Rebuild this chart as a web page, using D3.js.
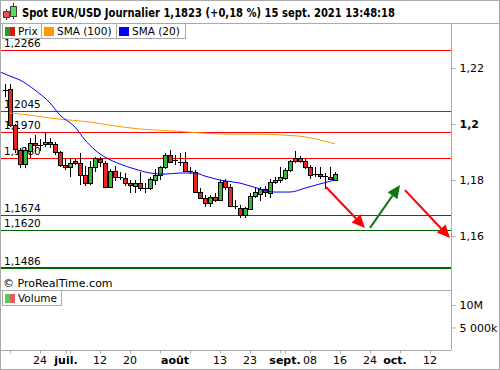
<!DOCTYPE html>
<html>
<head>
<meta charset="utf-8">
<script src="https://cdn.jsdelivr.net/npm/d3@7"></script>
<style>
  body { margin: 0; background: #fff; }
  svg { display: block; font-family: "DejaVu Sans", sans-serif; }
</style>
</head>
<body>
<svg id="chart" width="500" height="370"></svg>
<script>
// daily candles, 15 June -> 15 Sept 2021 : [open, high, low, close]
const candles = [
  [1.2120, 1.2143, 1.2095, 1.2122], [1.2125, 1.2143, 1.1990, 1.1996], [1.1996, 1.2000, 1.1895, 1.1910],
  [1.1908, 1.1915, 1.1843, 1.1857], [1.1857, 1.1918, 1.1843, 1.1907], [1.1902, 1.1950, 1.1880, 1.1932],
  [1.1932, 1.1960, 1.1900, 1.1925], [1.1925, 1.1945, 1.1905, 1.1926], [1.1928, 1.1972, 1.1918, 1.1936],
  [1.1936, 1.1950, 1.1915, 1.1929], [1.1929, 1.1935, 1.1890, 1.1900], [1.1900, 1.1905, 1.1845, 1.1854],
  [1.1854, 1.1875, 1.1835, 1.1846], [1.1846, 1.1880, 1.1810, 1.1861], [1.1868, 1.1875, 1.1855, 1.1861],
  [1.1861, 1.1895, 1.1782, 1.1818], [1.1818, 1.1850, 1.1780, 1.1789], [1.1789, 1.1868, 1.1782, 1.1846],
  [1.1846, 1.1882, 1.1830, 1.1879], [1.1875, 1.1882, 1.1848, 1.1864], [1.1861, 1.1868, 1.1772, 1.1775],
  [1.1775, 1.1840, 1.1770, 1.1832], [1.1832, 1.1850, 1.1795, 1.1812], [1.1812, 1.1830, 1.1800, 1.1807],
  [1.1807, 1.1825, 1.1780, 1.1789], [1.1789, 1.1800, 1.1755, 1.1782], [1.1780, 1.1800, 1.1752, 1.1790],
  [1.1789, 1.1830, 1.1760, 1.1771], [1.1771, 1.1790, 1.1752, 1.1772], [1.1771, 1.1810, 1.1765, 1.1804],
  [1.1800, 1.1840, 1.1783, 1.1818], [1.1818, 1.1850, 1.1800, 1.1846], [1.1846, 1.1895, 1.1840, 1.1889],
  [1.1889, 1.1908, 1.1860, 1.1864], [1.1870, 1.1890, 1.1855, 1.1866], [1.1866, 1.1895, 1.1850, 1.1864],
  [1.1864, 1.1900, 1.1830, 1.1832], [1.1832, 1.1848, 1.1820, 1.1828], [1.1828, 1.1835, 1.1755, 1.1757],
  [1.1757, 1.1770, 1.1735, 1.1736], [1.1736, 1.1745, 1.1705, 1.1718], [1.1718, 1.1745, 1.1705, 1.1739],
  [1.1739, 1.1753, 1.1720, 1.1730], [1.1730, 1.1800, 1.1725, 1.1793], [1.1796, 1.1805, 1.1765, 1.1775],
  [1.1775, 1.1785, 1.1705, 1.1707], [1.1707, 1.1727, 1.1695, 1.1703], [1.1700, 1.1710, 1.1665, 1.1675],
  [1.1675, 1.1705, 1.1664, 1.1700], [1.1696, 1.1755, 1.1692, 1.1743], [1.1743, 1.1770, 1.1735, 1.1757],
  [1.1750, 1.1775, 1.1725, 1.1768], [1.1768, 1.1780, 1.1740, 1.1757], [1.1754, 1.1805, 1.1735, 1.1793],
  [1.1793, 1.1810, 1.1785, 1.1800], [1.1800, 1.1845, 1.1790, 1.1811], [1.1807, 1.1842, 1.1800, 1.1836],
  [1.1836, 1.1870, 1.1830, 1.1868], [1.1879, 1.1904, 1.1860, 1.1868], [1.1880, 1.1885, 1.1860, 1.1870],
  [1.1868, 1.1880, 1.1840, 1.1846], [1.1846, 1.1855, 1.1805, 1.1818], [1.1820, 1.1845, 1.1810, 1.1820],
  [1.1821, 1.1845, 1.1805, 1.1814], [1.1814, 1.1825, 1.1768, 1.1810], [1.1812, 1.1845, 1.1800, 1.1806],
  [1.1800, 1.1830, 1.1798, 1.1823]
];

// moving averages (bar index, value)
const sma20Idx = [-1, 1, 3, 6, 9, 11, 14, 16, 18, 20, 23, 26, 29, 32, 35, 38, 40, 43, 47, 51, 54, 57, 60, 63, 66];
const sma20 = [1.2186, 1.2171, 1.2157, 1.2121, 1.2075, 1.2032, 1.1989, 1.1943, 1.1907, 1.1882, 1.1857, 1.1839,
  1.1825, 1.1821, 1.1825, 1.1825, 1.1814, 1.1800, 1.1789, 1.1768, 1.1757, 1.1757, 1.1771, 1.1786, 1.1800];
const sma100Idx = [1, 5, 9, 13, 17, 21, 27, 34, 39, 45, 50, 55, 60, 63, 66];
const sma100 = [1.2039, 1.2032, 1.2021, 1.2014, 1.2007, 1.1996, 1.1982, 1.1975, 1.1968, 1.1964, 1.1964,
  1.1961, 1.1954, 1.1943, 1.1929];

const resistances = [1.2266, 1.2045, 1.1970, 1.1880];
const supports = [1.1674, 1.1620, 1.1486];
const levelLabels = ["1,2266", "1,2045", "1,1970", "1,1880", "1,1674", "1,1620", "1,1486"];

const priceTicks = [1.16, 1.18, 1.2, 1.22];
const priceTickLabels = ["1,16", "1,18", "1,2", "1,22"];
const volTicks = [5e6, 10e6];
const volTickLabels = ["5 000k", "10M"];

const dayTicks = [1, 7, 12.2, 13, 19, 25, 31, 37, 43, 49, 55, 56, 61, 67, 73, 79, 85];
const dayLabelIdx = [7, 12.2, 19, 25, 34, 43, 49, 56, 61, 67, 73, 78, 85];
const dayLabels = ["24", "juil.", "12", "20", "août", "13", "23", "sept.", "08", "16", "24", "oct.", "12"];
const monthLabels = ["juil.", "août", "sept.", "oct."];

// forecast arrows : [fromIdx, fromPrice, toIdx, toPrice]
const arrowsRed = [[64.2, 1.1775, 72, 1.1629], [80, 1.1764, 89, 1.1593]];
const arrowsGreen = [[73, 1.1629, 79, 1.1782]];

const title = "Spot EUR/USD Journalier 1,1823 (+0,18 %) 15 sept. 2021 13:48:18";

const svg = d3.select("#chart");
const W = 500, H = 370;
const plotRight = 451, priceTop = 23, priceBottom = 290, volBottom = 350;
const frame = "#aaaaaa";
const upCol = "#33bb33", downCol = "#ec2420";

const x = d3.scaleLinear().domain([-1, 89.2]).range([0, plotRight]);
const y = d3.scaleLinear().domain([1.2 - 166 / 2800, 1.2 + 101 / 2800]).range([priceBottom, priceTop]);
const yv = d3.scaleLinear().domain([0, 13.33e6]).range([volBottom, priceBottom]);

svg.append("rect").attr("width", W).attr("height", H).attr("fill", "#fff");

svg.append("defs").append("clipPath").attr("id", "clip")
  .append("rect").attr("x", 0).attr("y", priceTop).attr("width", plotRight).attr("height", priceBottom - priceTop);

const plot = svg.append("g").attr("clip-path", "url(#clip)");

// horizontal levels + their labels (under the candles)
const levels = resistances.map(v => ({ v, col: "#ff0000", w: 1 }))
  .concat(supports.map((v, i) => ({ v, col: "#006600", w: i === supports.length - 1 ? 2 : 1 })));
levels.forEach((d, i) => {
  const yy = Math.round(y(d.v)) + (d.w === 1 ? 0.5 : 0);
  plot.append("line").attr("x1", 0).attr("x2", plotRight).attr("y1", yy).attr("y2", yy)
    .attr("stroke", d.col).attr("stroke-width", d.w);
  plot.append("text").attr("x", 4).attr("y", yy - 3.5).attr("font-size", 10.5).attr("fill", "#000")
    .text(levelLabels[i]);
});

// candles
const cg = plot.append("g").attr("shape-rendering", "crispEdges");
candles.forEach((c, i) => {
  const [o, h, l, cl] = c;
  const cx = Math.round(x(i));
  cg.append("line").attr("x1", cx + 0.5).attr("x2", cx + 0.5).attr("y1", y(h)).attr("y2", y(l))
    .attr("stroke", "#000");
  const top = y(Math.max(o, cl)), bot = y(Math.min(o, cl));
  if (bot - top < 1.5) {
    cg.append("line").attr("x1", cx - 2).attr("x2", cx + 3).attr("y1", Math.round(top) + 0.5).attr("y2", Math.round(top) + 0.5)
      .attr("stroke", "#000");
  } else {
    cg.append("rect").attr("x", cx - 1.5).attr("width", 4).attr("y", Math.round(top) + 0.5)
      .attr("height", Math.max(1, Math.round(bot - top)))
      .attr("fill", cl >= o ? upCol : downCol).attr("stroke", "#000");
  }
});

// moving averages
const line = d3.line().x(d => x(d[0])).y(d => y(d[1])).curve(d3.curveMonotoneX);
plot.append("path").datum(sma100Idx.map((d, i) => [d, sma100[i]]))
  .attr("d", line).attr("fill", "none").attr("stroke", "#ff9900").attr("stroke-width", 1);
plot.append("path").datum(sma20Idx.map((d, i) => [d, sma20[i]]))
  .attr("d", line).attr("fill", "none").attr("stroke", "#0000ff").attr("stroke-width", 1);

// arrows
function arrow(a, col) {
  const x1 = x(a[0]), y1 = y(a[1]), x2 = x(a[2]), y2 = y(a[3]);
  const ang = Math.atan2(y2 - y1, x2 - x1), len = 13, hw = 6;
  const bx = x2 - len * Math.cos(ang), by = y2 - len * Math.sin(ang);
  plot.append("line").attr("x1", x1).attr("y1", y1).attr("x2", bx).attr("y2", by)
    .attr("stroke", col).attr("stroke-width", 2);
  const px = -Math.sin(ang) * hw, py = Math.cos(ang) * hw;
  plot.append("path").attr("d", `M${x2},${y2}L${bx + px},${by + py}L${bx - px},${by - py}Z`).attr("fill", col);
}
arrowsRed.forEach(a => arrow(a, "#ff0000"));
arrowsGreen.forEach(a => arrow(a, "#117711"));

// copyright
svg.append("text").attr("x", 3).attr("y", 287).attr("font-size", 11).text("© ProRealTime.com");

// frame lines
svg.append("line").attr("x1", 0).attr("x2", W).attr("y1", priceTop + 0.5).attr("y2", priceTop + 0.5).attr("stroke", frame);
svg.append("line").attr("x1", 0).attr("x2", plotRight).attr("y1", priceBottom + 0.5).attr("y2", priceBottom + 0.5).attr("stroke", frame);
svg.append("line").attr("x1", 0).attr("x2", plotRight).attr("y1", volBottom + 0.5).attr("y2", volBottom + 0.5).attr("stroke", frame);
svg.append("rect").attr("x", 0.5).attr("y", 0.5).attr("width", W - 1).attr("height", H - 1)
  .attr("fill", "none").attr("stroke", frame);

// right price axis
const ay = svg.append("g").attr("transform", `translate(${plotRight + 0.5},0)`)
  .call(d3.axisRight(y).tickValues(priceTicks).tickSize(4).tickPadding(4)
    .tickFormat((d, i) => priceTickLabels[i]));
ay.select(".domain").attr("d", `M0,${priceTop}V${volBottom}`);
const av = svg.append("g").attr("transform", `translate(${plotRight + 0.5},0)`)
  .call(d3.axisRight(yv).tickValues(volTicks).tickSize(4).tickPadding(4)
    .tickFormat((d, i) => volTickLabels[i]));
av.select(".domain").remove();
[ay, av].forEach(g => {
  g.selectAll(".tick line, .domain").attr("stroke", frame);
  g.selectAll("text").attr("font-size", 11).attr("font-family", "DejaVu Sans, sans-serif").attr("fill", "#000");
});
ay.selectAll("text").filter(d => d === 1.2).attr("font-weight", "bold");

// bottom date axis
const ax = svg.append("g").attr("transform", `translate(0,${volBottom + 0.5})`)
  .call(d3.axisBottom(x).tickValues(dayTicks).tickSize(3).tickFormat(""));
ax.select(".domain").remove();
ax.selectAll(".tick line").attr("stroke", frame);
svg.append("g").selectAll("text").data(dayLabelIdx).join("text")
  .attr("x", d => x(d)).attr("y", 364).attr("text-anchor", "middle").attr("font-size", 11)
  .attr("font-weight", (d, i) => monthLabels.includes(dayLabels[i]) ? "bold" : "normal")
  .text((d, i) => dayLabels[i]);

// header
const hd = svg.append("g");
hd.append("line").attr("x1", 6.5).attr("x2", 6.5).attr("y1", 9).attr("y2", 20).attr("stroke", "#333");
hd.append("rect").attr("x", 3.5).attr("y", 11.5).attr("width", 6).attr("height", 6).attr("fill", "#e85050").attr("stroke", "#444");
hd.append("line").attr("x1", 13.5).attr("x2", 13.5).attr("y1", 3).attr("y2", 19).attr("stroke", "#333");
hd.append("rect").attr("x", 10.5).attr("y", 6.5).attr("width", 6).attr("height", 10).attr("fill", "#55dd55").attr("stroke", "#444");
hd.append("text").attr("x", 22).attr("y", 17).attr("font-size", 11.5).attr("font-weight", "bold")
  .attr("textLength", 373).attr("lengthAdjust", "spacingAndGlyphs").text(title);

// legends
function legendBox(x0, w, y0, label, fill1, fill2) {
  const g = svg.append("g");
  g.append("rect").attr("x", x0 + 0.5).attr("y", y0 + 0.5).attr("width", w).attr("height", 15)
    .attr("fill", "#fff").attr("stroke", frame);
  g.append("rect").attr("x", x0 + 3).attr("y", y0 + 4).attr("width", fill2 ? 5 : 10).attr("height", 9).attr("fill", fill1);
  if (fill2) g.append("rect").attr("x", x0 + 8).attr("y", y0 + 4).attr("width", 5).attr("height", 9).attr("fill", fill2);
  g.append("text").attr("x", x0 + 16).attr("y", y0 + 12).attr("font-size", 10.5).text(label);
}
legendBox(2, 39, 23, "Prix", "#1e9e1e", "#dd1515");
legendBox(41, 75, 23, "SMA (100)", "#ff9900");
legendBox(116, 69, 23, "SMA (20)", "#0000ff");
legendBox(2, 59, 290, "Volume", "#55cc55", "#e06060");
</script>
</body>
</html>
